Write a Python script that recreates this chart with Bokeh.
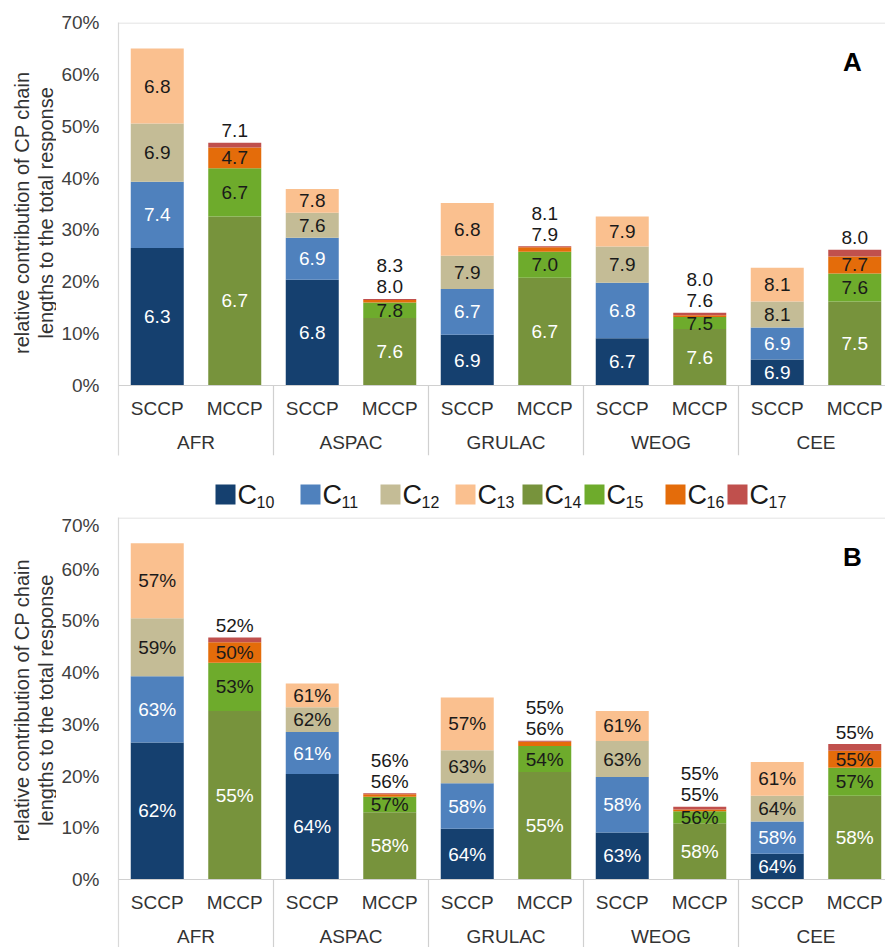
import math
from bokeh.plotting import figure
from bokeh.models import ColumnDataSource, Range1d, FixedTicker, NumeralTickFormatter, Span
from bokeh.layouts import column, row
from bokeh.core.properties import value
from bokeh.embed import file_html
from bokeh.resources import INLINE

FONT = "Liberation Sans"

# ---------------- data ----------------
regions = ["AFR", "ASPAC", "GRULAC", "WEOG", "CEE"]
cp_types = ["SCCP", "MCCP"]
chains = ["C10", "C11", "C12", "C13", "C14", "C15", "C16", "C17"]
chain_subs = ["10", "11", "12", "13", "14", "15", "16", "17"]
y_ticks_pct = [0, 10, 20, 30, 40, 50, 60, 70]

# relative contribution (% of total response), per region
sccp_c10 = [26.5, 20.4, 9.8, 9.1, 5.0]
sccp_c11 = [12.8, 8.1, 8.8, 10.7, 6.2]
sccp_c12 = [11.2, 4.8, 6.4, 7.0, 5.0]
sccp_c13 = [14.5, 4.6, 10.2, 5.8, 6.5]
mccp_c14 = [32.6, 13.0, 20.8, 10.9, 16.2]
mccp_c15 = [9.3, 3.0, 5.0, 2.3, 5.4]
mccp_c16 = [4.0, 0.5, 0.85, 0.35, 3.3]
mccp_c17 = [0.9, 0.2, 0.2, 0.5, 1.3]

# panel A labels
a_c10 = [6.3, 6.8, 6.9, 6.7, 6.9]
a_c11 = [7.4, 6.9, 6.7, 6.8, 6.9]
a_c12 = [6.9, 7.6, 7.9, 7.9, 8.1]
a_c13 = [6.8, 7.8, 6.8, 7.9, 8.1]
a_c14 = [6.7, 7.6, 6.7, 7.6, 7.5]
a_c15 = [6.7, 7.8, 7.0, 7.5, 7.6]
a_c16 = [4.7, 8.0, 7.9, 7.6, 7.7]
a_c17 = [7.1, 8.3, 8.1, 8.0, 8.0]

# panel B labels (%)
b_c10 = [62, 64, 64, 63, 64]
b_c11 = [63, 61, 58, 58, 58]
b_c12 = [59, 62, 63, 63, 64]
b_c13 = [57, 61, 57, 61, 61]
b_c14 = [55, 58, 55, 58, 58]
b_c15 = [53, 57, 54, 56, 57]
b_c16 = [50, 56, 56, 55, 55]
b_c17 = [52, 56, 55, 55, 55]

colors = ["#15406F", "#4F81BD", "#C4BC96", "#FAC08F",
          "#77933C", "#6EAB2C", "#E46C0A", "#C0504D"]
light_text = {"C10", "C11", "C14"}

sccp_vals = [sccp_c10, sccp_c11, sccp_c12, sccp_c13]
mccp_vals = [mccp_c14, mccp_c15, mccp_c16, mccp_c17]
a_labels = [a_c10, a_c11, a_c12, a_c13, a_c14, a_c15, a_c16, a_c17]
b_labels = [b_c10, b_c11, b_c12, b_c13, b_c14, b_c15, b_c16, b_c17]

# bar table
bar_x, bar_cat = [], []
cols = {c: [] for c in chains}
for r, reg in enumerate(regions):
    for t, cp in enumerate(cp_types):
        bar_x.append(2 * r + t + 0.5)
        bar_cat.append(cp)
        for k, c in enumerate(chains):
            if cp == "SCCP":
                v = sccp_vals[k][r] if k < 4 else 0.0
            else:
                v = mccp_vals[k - 4][r] if k >= 4 else 0.0
            cols[c].append(v / 100.0)

GROUP_PX = 155.0
UNIT_PX = GROUP_PX / 2
FRAME_W = 767
X_END = FRAME_W / UNIT_PX
BAR_W = 53 / UNIT_PX
TITLE_W = 56
PANEL_W = 885 - TITLE_W
LEFT_BORDER = 118 - TITLE_W


def panel(tag, labels, fmt, height, btop, bbot, plot_px):
    frame_h = height - btop - bbot
    ppu = plot_px / 0.70
    ymin = -(frame_h - plot_px) / ppu
    p = figure(width=PANEL_W, height=height, x_range=Range1d(0, X_END),
               y_range=Range1d(ymin, 0.70), toolbar_location=None,
               output_backend="svg", x_axis_location=None,
               min_border_left=LEFT_BORDER, min_border_right=0,
               min_border_top=btop, min_border_bottom=bbot)
    p.outline_line_color = None
    p.grid.visible = False
    p.background_fill_color = "white"
    p.border_fill_color = "white"

    ax = p.yaxis[0]
    ax.ticker = FixedTicker(ticks=[v / 100 for v in y_ticks_pct])
    ax.formatter = NumeralTickFormatter(format="0%")
    ax.major_tick_out = 0
    ax.major_tick_in = 0
    ax.minor_tick_line_color = None
    ax.major_tick_line_color = None
    ax.axis_line_color = "#D9D9D9"
    ax.axis_line_width = 1.2
    ax.major_label_standoff = 19
    ax.major_label_text_font = FONT
    ax.major_label_text_font_size = "19px"
    ax.major_label_text_color = "#404040"

    p.add_layout(Span(location=0.70 - 0.5 / ppu, dimension="width",
                      line_color="#D9D9D9", line_width=1.2))

    src = ColumnDataSource(dict(x=bar_x, **cols))
    p.vbar_stack(chains, x="x", width=BAR_W, fill_color=colors,
                 line_color=None, source=src)

    p.add_layout(Span(location=0, dimension="width",
                      line_color="#D0D0D0", line_width=1.2))

    # separators between regions
    sep_x = [2.0 * g for g in range(1, len(regions))]
    p.segment(x0=sep_x, y0=[0] * len(sep_x), x1=sep_x, y1=[ymin] * len(sep_x),
              line_color="#D0D0D0", line_width=1.2)

    # data labels
    lx, ly, lt, lc = [], [], [], []
    for i, x in enumerate(bar_x):
        r = i // 2
        ks = range(0, 4) if bar_cat[i] == "SCCP" else range(4, 8)
        bottom = 0.0
        top = sum(cols[chains[k]][i] for k in ks)
        level = 0
        for k in ks:
            v = cols[chains[k]][i]
            inside = (k < 6) or (k == 6 and v >= 0.02)
            if inside:
                y = bottom + v / 2
                col = "#FFFFFF" if chains[k] in light_text else "#1A1A1A"
            else:
                off = [12, 33][level]
                level += 1
                y = top + off / ppu
                col = "#1A1A1A"
            lx.append(x)
            ly.append(y)
            lt.append(fmt(labels[k][r]))
            lc.append(col)
            bottom += v
    p.text(x="x", y="y", text="t", text_color="c",
           source=ColumnDataSource(dict(x=lx, y=ly, t=lt, c=lc)),
           text_align="center", text_baseline="middle",
           text_font=value(FONT), text_font_size="19px")

    # category labels
    p.text(x=bar_x, y=[-23 / ppu] * len(bar_x), text=bar_cat,
           text_align="center", text_baseline="middle", text_color="#333333",
           text_font=value(FONT), text_font_size="19px")
    p.text(x=[2 * g + 1 for g in range(len(regions))],
           y=[-57 / ppu] * len(regions), text=regions,
           text_align="center", text_baseline="middle", text_color="#333333",
           text_font=value(FONT), text_font_size="19px")

    # panel letter
    p.text(x=[(852 - 118) / UNIT_PX], y=[(plot_px - 39) / ppu], text=[tag],
           text_align="center", text_baseline="middle", text_color="#000000",
           text_font=value(FONT), text_font_size="26px", text_font_style="bold")
    return p


def title_fig(height, cy):
    f = figure(width=TITLE_W, height=height, x_range=Range1d(0, TITLE_W),
               y_range=Range1d(0, height), toolbar_location=None,
               output_backend="svg", x_axis_location=None, y_axis_location=None,
               min_border=0)
    f.outline_line_color = None
    f.grid.visible = False
    f.text(x=[21, 45], y=[cy, cy],
           text=["relative contribution of CP chain", "lengths to the total response"],
           angle=math.pi / 2, text_align="center", text_baseline="middle",
           text_color="#333333", text_font=value(FONT), text_font_size="20px")
    return f


LEG_TOP = 463
LEG_H = 51


def legend_fig():
    h = LEG_H
    f = figure(width=885, height=h, x_range=Range1d(0, 885), y_range=Range1d(0, h),
               toolbar_location=None, output_backend="svg",
               x_axis_location=None, y_axis_location=None, min_border=0)
    f.outline_line_color = None
    f.grid.visible = False
    lefts = [215, 300, 380, 455, 522, 584, 665, 727]
    yc = h - (494 - LEG_TOP)
    f.rect(x=[s + 10 for s in lefts], y=[yc] * len(lefts), width=20, height=20,
           fill_color=colors, line_color=None)
    f.text(x=[s + 22 for s in lefts], y=[h - (494 - LEG_TOP)] * len(lefts),
           text=["C"] * len(lefts),
           text_align="left", text_baseline="middle", text_color="#1A1A1A",
           text_font=value(FONT), text_font_size="27px")
    f.text(x=[s + 41 for s in lefts], y=[h - (501 - LEG_TOP)] * len(lefts),
           text=chain_subs,
           text_align="left", text_baseline="middle", text_color="#1A1A1A",
           text_font=value(FONT), text_font_size="16px")
    return f


fmt_a = lambda v: "%.1f" % v
fmt_b = lambda v: "%d%%" % v

HA = LEG_TOP
HB = 947 - LEG_TOP - LEG_H
pA = panel("A", a_labels, fmt_a, HA, 22, HA - 455, 363)
pB = panel("B", b_labels, fmt_b, HB, 517 - (LEG_TOP + LEG_H), 0, 362)
tA = title_fig(HA, HA - 203.5)
tB = title_fig(HB, HB - (698 - (LEG_TOP + LEG_H)))
leg = legend_fig()

layout = column(row(tA, pA), leg, row(tB, pB))
open("out.html", "w").write(file_html(layout, INLINE))
